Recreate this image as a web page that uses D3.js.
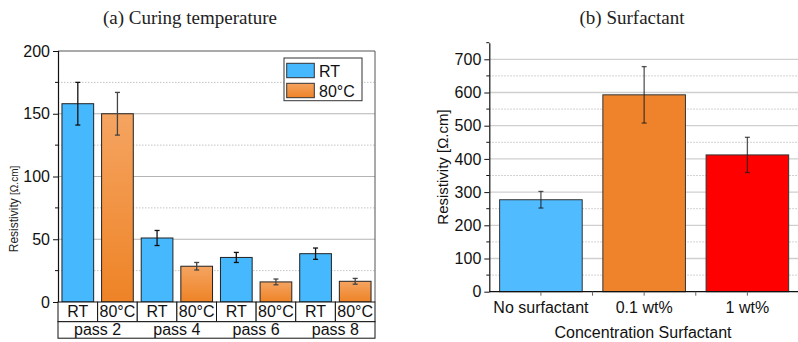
<!DOCTYPE html>
<html>
<head>
<meta charset="utf-8">
<script src="https://cdn.jsdelivr.net/npm/d3@7"></script>
<style>
  body { margin: 0; background: #fff; }
  svg { display: block; font-family: "Liberation Sans", Arial, sans-serif; }
</style>
</head>
<body>
<div id="chart"></div>
<script>
// data ----------------------------------------------------------------
const passes = ["pass 2", "pass 4", "pass 6", "pass 8"];
const curing = ["RT", "80°C"];
const rtValues = [158, 51, 35.5, 38.5];
const rtErrors = [17, 6, 4, 4.5];
const hotValues = [150, 28.5, 16, 16.5];
const hotErrors = [17, 3, 2.3, 2.3];
const leftTicks = [0, 50, 100, 150, 200];

const surfactants = ["No surfactant", "0.1 wt%", "1 wt%"];
const surfValues = [277, 593, 412];
const surfErrors = [25, 85, 53];
const rightTicks = [0, 100, 200, 300, 400, 500, 600, 700];

const W = 798, H = 342;
const svg = d3.select("#chart").append("svg")
    .attr("width", W)
    .attr("height", H);

const defs = svg.append("defs");
const grad = defs.append("linearGradient")
    .attr("id", "orangeGrad")
    .attr("x1", 0).attr("y1", 0).attr("x2", 0).attr("y2", 1);
grad.append("stop").attr("offset", "0%").attr("stop-color", "#F5A461");
grad.append("stop").attr("offset", "100%").attr("stop-color", "#EE8326");

const blue = "#45B8FE";
const gridCol = "#c4c4c4";

// ---------------------------------------------------------------------
// (a) Curing temperature
// ---------------------------------------------------------------------
const bars = [];
passes.forEach((p, i) => {
    bars.push({ key: p + "|RT", label: curing[0], pass: p, value: rtValues[i], err: rtErrors[i], rt: true });
    bars.push({ key: p + "|80", label: curing[1], pass: p, value: hotValues[i], err: hotErrors[i], rt: false });
});

const xa = d3.scaleBand()
    .domain(bars.map(d => d.key))
    .range([58, 375])
    .paddingInner(0.2)
    .paddingOuter(0.1);
const ya = d3.scaleLinear().domain([0, 200]).range([302, 51]);

const ga = svg.append("g");

// grid
ga.selectAll(".minor")
    .data(d3.range(25, 200, 50))
    .join("line")
    .attr("x1", 58).attr("x2", 375)
    .attr("y1", d => ya(d)).attr("y2", d => ya(d))
    .attr("stroke", gridCol)
    .attr("stroke-dasharray", "1.5,1.5");
ga.selectAll(".major")
    .data(leftTicks.filter(d => d > 0 && d < 200))
    .join("line")
    .attr("x1", 58).attr("x2", 375)
    .attr("y1", d => ya(d)).attr("y2", d => ya(d))
    .attr("stroke", "#b4b4b4")
    .attr("stroke-width", 1.2);

// frame top/right
ga.append("path")
    .attr("d", `M58,${ya(200)}H375V${ya(0)}`)
    .attr("fill", "none")
    .attr("stroke", "#555")
    .attr("stroke-width", 1);

// bars
ga.selectAll(".bar")
    .data(bars)
    .join("rect")
    .attr("x", d => xa(d.key))
    .attr("width", xa.bandwidth())
    .attr("y", d => ya(d.value))
    .attr("height", d => ya(0) - ya(d.value))
    .attr("fill", d => d.rt ? blue : "url(#orangeGrad)")
    .attr("stroke", "#222")
    .attr("stroke-width", 1);

// error bars
const errA = ga.selectAll(".err")
    .data(bars)
    .join("g")
    .attr("stroke", d => d.rt ? "#111" : "#444")
    .attr("stroke-width", 1.3);
errA.append("line")
    .attr("x1", d => xa(d.key) + xa.bandwidth() / 2)
    .attr("x2", d => xa(d.key) + xa.bandwidth() / 2)
    .attr("y1", d => ya(d.value + d.err))
    .attr("y2", d => ya(d.value - d.err));
[1, -1].forEach(s => {
    errA.append("line")
        .attr("x1", d => xa(d.key) + xa.bandwidth() / 2 - 2.5)
        .attr("x2", d => xa(d.key) + xa.bandwidth() / 2 + 2.5)
        .attr("y1", d => ya(d.value + s * d.err))
        .attr("y2", d => ya(d.value + s * d.err));
});

// y axis
const axA = ga.append("g")
    .attr("transform", "translate(58,0)")
    .call(d3.axisLeft(ya).tickValues(leftTicks).tickSize(5).tickPadding(3));
axA.select(".domain").attr("stroke", "#111").attr("stroke-width", 1.2);
axA.selectAll(".tick line").attr("stroke", "#111");
axA.selectAll(".tick text")
    .attr("font-size", 16)
    .attr("fill", "#111")
    .attr("font-family", "Liberation Sans, Arial, sans-serif");
ga.selectAll(".ytickminor")
    .data(d3.range(25, 200, 50))
    .join("line")
    .attr("x1", 55).attr("x2", 58)
    .attr("y1", d => ya(d)).attr("y2", d => ya(d))
    .attr("stroke", "#111");

// category table
const step = xa.step();
const row1 = ga.append("g");
row1.selectAll("rect")
    .data(bars)
    .join("rect")
    .attr("x", (d, i) => 58 + i * step)
    .attr("width", step)
    .attr("y", 302)
    .attr("height", 19.7)
    .attr("fill", "#fff")
    .attr("stroke", "#111");
row1.selectAll("text")
    .data(bars)
    .join("text")
    .attr("x", d => xa(d.key) + xa.bandwidth() / 2)
    .attr("y", 317)
    .attr("text-anchor", "middle")
    .attr("font-size", 16)
    .attr("fill", "#111")
    .text(d => d.label);
ga.append("rect")
    .attr("x", 58).attr("width", 317)
    .attr("y", 321.7).attr("height", 16.5)
    .attr("fill", "#fff")
    .attr("stroke", "#111");
ga.selectAll(".passlab")
    .data(passes)
    .join("text")
    .attr("x", (d, i) => 58 + (2 * i + 1) * step)
    .attr("y", 335)
    .attr("text-anchor", "middle")
    .attr("font-size", 16)
    .attr("fill", "#111")
    .text(d => d);

// y label
const ylabA = ga.append("text")
    .attr("transform", "translate(18,209) rotate(-90)")
    .attr("text-anchor", "middle")
    .attr("fill", "#222");
ylabA.append("tspan").attr("font-size", 12).text("Resistivity ");
ylabA.append("tspan").attr("font-size", 10).text("[Ω.cm]");

// legend
const leg = ga.append("g");
leg.append("rect")
    .attr("x", 284).attr("y", 58)
    .attr("width", 78).attr("height", 42.7)
    .attr("fill", "#fff")
    .attr("stroke", "#333");
curing.forEach((c, i) => {
    leg.append("rect")
        .attr("x", 286.7).attr("y", 63.3 + i * 20)
        .attr("width", 27.6).attr("height", 14.4)
        .attr("fill", i === 0 ? blue : "url(#orangeGrad)")
        .attr("stroke", "#333");
    leg.append("text")
        .attr("x", 319).attr("y", 76.5 + i * 20)
        .attr("font-size", 16)
        .attr("fill", "#111")
        .text(c);
});

// title
svg.append("text")
    .attr("x", 190).attr("y", 24)
    .attr("text-anchor", "middle")
    .attr("font-family", "Liberation Serif, Times New Roman, serif")
    .attr("font-size", 19)
    .attr("fill", "#222")
    .text("(a) Curing temperature");

// ---------------------------------------------------------------------
// (b) Surfactant
// ---------------------------------------------------------------------
const surfColors = ["#50BBFF", "#EE832B", "#FF0000"];
const xb = d3.scaleBand()
    .domain(surfactants)
    .range([489.3, 799])
    .paddingInner(0.2)
    .paddingOuter(0.1);
const yb = d3.scaleLinear().domain([0, 750]).range([291.7, 42.7]);

const gb = svg.append("g");

gb.selectAll(".minor")
    .data(d3.range(50, 750, 100))
    .join("line")
    .attr("x1", 489.3).attr("x2", 799)
    .attr("y1", d => yb(d)).attr("y2", d => yb(d))
    .attr("stroke", gridCol)
    .attr("stroke-dasharray", "1.5,1.5");
gb.selectAll(".major")
    .data(rightTicks.filter(d => d > 0))
    .join("line")
    .attr("x1", 489.3).attr("x2", 799)
    .attr("y1", d => yb(d)).attr("y2", d => yb(d))
    .attr("stroke", "#cfcfcf")
    .attr("stroke-width", 1.3);

gb.selectAll(".bar")
    .data(surfactants)
    .join("rect")
    .attr("x", d => xb(d))
    .attr("width", xb.bandwidth())
    .attr("y", (d, i) => yb(surfValues[i]))
    .attr("height", (d, i) => yb(0) - yb(surfValues[i]))
    .attr("fill", (d, i) => surfColors[i])
    .attr("stroke", "#333")
    .attr("stroke-width", 1);

const errB = gb.selectAll(".err")
    .data(surfactants)
    .join("g")
    .attr("stroke", "rgba(30,30,30,0.75)")
    .attr("stroke-width", 1.3);
errB.append("line")
    .attr("x1", d => xb(d) + xb.bandwidth() / 2)
    .attr("x2", d => xb(d) + xb.bandwidth() / 2)
    .attr("y1", (d, i) => yb(surfValues[i] + surfErrors[i]))
    .attr("y2", (d, i) => yb(surfValues[i] - surfErrors[i]));
[1, -1].forEach(s => {
    errB.append("line")
        .attr("x1", d => xb(d) + xb.bandwidth() / 2 - 2.5)
        .attr("x2", d => xb(d) + xb.bandwidth() / 2 + 2.5)
        .attr("y1", (d, i) => yb(surfValues[i] + s * surfErrors[i]))
        .attr("y2", (d, i) => yb(surfValues[i] + s * surfErrors[i]));
});

// y axis
const axB = gb.append("g")
    .attr("transform", "translate(489.3,0)")
    .call(d3.axisLeft(yb).tickValues(rightTicks).tickSize(5).tickPadding(3).tickSizeOuter(0));
axB.select(".domain").attr("stroke", "#111").attr("stroke-width", 1.2);
axB.selectAll(".tick line").attr("stroke", "#111");
axB.selectAll(".tick text")
    .attr("font-size", 16)
    .attr("fill", "#111")
    .attr("font-family", "Liberation Sans, Arial, sans-serif");
gb.selectAll(".ytickminor")
    .data(d3.range(50, 800, 100))
    .join("line")
    .attr("x1", 486.3).attr("x2", 489.3)
    .attr("y1", d => yb(d)).attr("y2", d => yb(d))
    .attr("stroke", "#111");

// x axis
gb.append("line")
    .attr("x1", 489.3).attr("x2", 799)
    .attr("y1", yb(0)).attr("y2", yb(0))
    .attr("stroke", "#111")
    .attr("stroke-width", 1.2);
const xTicks = surfactants.map(d => xb(d) + xb.bandwidth() / 2)
    .concat(surfactants.slice(1).map(d => xb(d) - xb.step() * 0.1));
gb.selectAll(".xtick")
    .data(xTicks)
    .join("line")
    .attr("x1", d => d).attr("x2", d => d)
    .attr("y1", yb(0)).attr("y2", yb(0) + 4)
    .attr("stroke", "#666");
gb.selectAll(".xlab")
    .data(surfactants)
    .join("text")
    .attr("x", d => xb(d) + xb.bandwidth() / 2)
    .attr("y", 313)
    .attr("text-anchor", "middle")
    .attr("font-size", 16)
    .attr("fill", "#111")
    .text(d => d);

gb.append("text")
    .attr("x", 643).attr("y", 338)
    .attr("text-anchor", "middle")
    .attr("font-size", 16)
    .attr("fill", "#111")
    .text("Concentration Surfactant");

gb.append("text")
    .attr("transform", "translate(443,167) rotate(-90)")
    .attr("text-anchor", "middle")
    .attr("dy", "0.35em")
    .attr("font-size", 15)
    .attr("fill", "#111")
    .text("Resistivity [Ω.cm]");

svg.append("text")
    .attr("x", 632).attr("y", 24)
    .attr("text-anchor", "middle")
    .attr("font-family", "Liberation Serif, Times New Roman, serif")
    .attr("font-size", 19)
    .attr("fill", "#222")
    .text("(b) Surfactant");
</script>
</body>
</html>
